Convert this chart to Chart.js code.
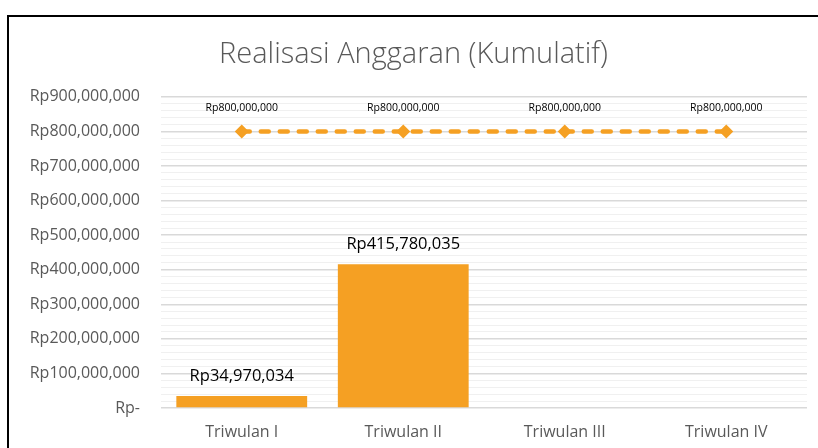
<!DOCTYPE html>
<html>
<head>
<meta charset="utf-8">
<script src="https://cdn.jsdelivr.net/npm/chart.js@4.4.0/dist/chart.umd.min.js"></script>
<style>
  html, body { margin: 0; padding: 0; background: #fff; }
  #wrap { position: relative; width: 818px; height: 448px; overflow: hidden; }
  #frame { position: absolute; left: 7px; top: 15px; width: 830px; height: 460px;
           border: 2px solid #000; pointer-events: none; box-sizing: border-box; }
</style>
</head>
<body>
<div id="wrap">
  <canvas id="chart" width="818" height="448"></canvas>
  <div id="frame"></div>
</div>
<script>
// Chart data
const quarters = ['Triwulan I', 'Triwulan II', 'Triwulan III', 'Triwulan IV'];
const realisasi = [34970034, 415780035, null, null];
const anggaran = [800000000, 800000000, 800000000, 800000000];

const orange = '#F5A023';
const fontFamily = '"Open Sans", "Noto Sans", sans-serif';

function rupiah(v) {
    if (v === 0) return 'Rp-';
    return 'Rp' + v.toLocaleString('en-US');
}

// Simple data label plugin (no datalabels plugin available)
const valueLabels = {
    id: 'valueLabels',
    afterDatasetsDraw(chart) {
        const ctx = chart.ctx;
        ctx.save();
        ctx.textAlign = 'center';
        ctx.textBaseline = 'alphabetic';
        ctx.fillStyle = '#000';
        chart.data.datasets.forEach((ds, i) => {
            const meta = chart.getDatasetMeta(i);
            meta.data.forEach((el, j) => {
                const v = ds.data[j];
                if (v === null || v === undefined) return;
                if (ds.type === 'line') {
                    ctx.font = '10.5px ' + fontFamily;
                    ctx.fillText(rupiah(v), el.x, el.y - 20);
                } else {
                    ctx.font = '16.5px ' + fontFamily;
                    ctx.fillText(rupiah(v), el.x, el.y - 15);
                }
            });
        });
        ctx.restore();
    }
};

new Chart(document.getElementById('chart'), {
    data: {
        labels: quarters,
        datasets: [
            {
                type: 'line',
                label: 'Anggaran',
                data: anggaran,
                borderColor: orange,
                backgroundColor: orange,
                borderWidth: 4.5,
                borderCapStyle: 'round',
                borderDash: [8, 11],
                pointStyle: 'rectRot',
                pointRadius: 7,
                pointBorderWidth: 0,
                order: 0
            },
            {
                type: 'bar',
                label: 'Realisasi',
                data: realisasi,
                backgroundColor: orange,
                categoryPercentage: 0.81,
                barPercentage: 1,
                order: 1
            }
        ]
    },
    options: {
        responsive: false,
        animation: false,
        layout: { padding: { left: 20, right: 11, top: 22, bottom: 0 } },
        plugins: {
            legend: { display: false },
            tooltip: { enabled: false },
            title: {
                display: true,
                text: 'Realisasi Anggaran (Kumulatif)',
                color: '#595959',
                font: { family: fontFamily, size: 29, weight: '300' },
                padding: { top: 15, bottom: 25 }
            }
        },
        scales: {
            x: {
                grid: { display: false, drawTicks: false },
                border: { display: false },
                afterFit(scale) { scale.height = 40; },
                ticks: {
                    color: '#595959',
                    font: { family: fontFamily, size: 16 },
                    padding: 15
                }
            },
            y: {
                min: 0,
                max: 900000000,
                border: { display: false },
                afterFit(scale) { scale.width = 141; },
                grid: {
                    drawTicks: false,
                    color: (c) => (c.tick && c.tick.value % 100000000 === 0) ? '#d9d9d9' : '#f0f0f0',
                    lineWidth: (c) => (c.tick && c.tick.value % 100000000 === 0) ? 1.5 : 1
                },
                ticks: {
                    stepSize: 20000000,
                    autoSkip: false,
                    color: '#595959',
                    font: { family: fontFamily, size: 16 },
                    padding: 21,
                    callback: (v) => (v % 100000000 === 0) ? rupiah(v) : ''
                }
            }
        }
    },
    plugins: [valueLabels]
});
</script>
</body>
</html>
